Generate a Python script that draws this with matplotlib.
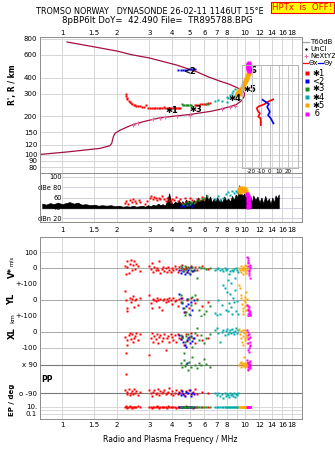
import matplotlib
matplotlib.use("Agg")
import matplotlib.pyplot as plt
from matplotlib.lines import Line2D
from matplotlib.ticker import FixedLocator, NullLocator

plt.rcParams['font.family'] = ['DejaVu Sans']

# ---------------- data ----------------
freq_ticks = [1, 1.5, 2, 3, 4, 5, 6, 7, 8, 9, 10, 12, 14, 16, 18]
freq_labels_top = ['1', '1.5', '2', '3', '4', '5', '6', '7', '8', '', '10', '12', '14', '16', '18']
freq_labels_mid = ['1', '1.5', '2', '3', '4', '5', '6', '7', '8', '9', '10', '12', '14', '16', '18']
height_ticks = [80, 90, 100, 120, 150, 200, 300, 400, 600, 800]

# real-height electron density profile (plasma frequency / MHz, height / km)
prof_f = [0.758, 1.06, 1.61, 1.83, 1.87, 1.91, 1.95, 2.07, 2.35, 2.45, 2.78, 3.16, 3.43, 3.89,
          4.23, 5.0, 5.45, 6.5, 7.3, 8.28, 9.0, 9.6, 9.9, 9.95, 9.8, 9.5, 9.0, 8.2, 7.3, 6.3,
          5.45, 4.23, 3.0, 2.4, 2.0, 1.51, 1.065]
prof_h = [100.5, 105, 112, 117.6, 123, 139, 147, 155, 168, 172, 181, 189, 194, 198,
          201, 206, 210, 218, 226, 237, 247, 265, 285, 300, 312, 322, 335, 355, 375, 405,
          444, 501, 569, 603, 644, 693, 758]

# NeXtYZ points
nxyz_f = [2.45, 2.61, 3.16, 3.43, 3.66, 4.23, 5.0, 7.45, 8.28, 8.82]
nxyz_h = [172, 178, 189, 194, 196, 200, 205, 228, 236, 242]

# echo traces: frequency / MHz, virtual range / km
o1_f = [2.24, 2.245, 2.26, 2.28, 2.31, 2.34, 2.38, 2.42, 2.46, 2.50, 2.55, 2.60, 2.66, 2.72,
        2.80, 2.88, 2.96, 3.03, 3.10, 3.17, 3.24, 3.31, 3.38, 3.45, 3.52, 3.59, 3.66, 3.73,
        3.80, 3.88, 3.96, 4.04, 4.12, 4.20, 4.28, 4.36, 4.44,
        5.30, 5.42, 5.55, 5.68, 5.80, 5.95, 6.10, 6.25, 6.40]
o1_h = [298, 288, 279, 270, 263, 257, 252, 248, 245, 243, 241, 239, 238, 237,
        236, 244, 233, 232, 231, 231, 230, 230, 230, 230, 231, 237, 230, 230,
        230, 230, 230, 230, 230, 230, 231, 231, 232,
        244, 245, 246, 247, 248, 249, 250, 252, 253]
x2_f = [4.33, 4.45, 4.57, 4.70, 4.83, 4.96, 5.10, 5.22, 5.33]
x2_h = [458, 459, 460, 461, 462, 463, 464, 466, 467]
t3_f = [4.50, 4.58, 4.66, 4.74, 4.82, 4.90, 4.98, 5.06, 5.14, 6.15, 6.25]
t3_h = [247, 246, 245, 245, 244, 244, 243, 243, 242, 248, 250]
t4_f = [6.84, 7.14, 7.5, 7.93, 7.93, 8.1, 8.28, 8.45, 8.63, 8.82, 9.0, 8.9, 8.7, 9.1]
t4_h = [264, 267, 262, 283, 259, 279, 292, 302, 314, 323, 292, 300, 285, 310]
t5_f = [9.1, 9.17, 9.25, 9.3, 9.35, 9.4, 9.5, 9.55, 9.62, 9.7, 9.78, 9.85, 9.92, 10.0,
        10.05, 10.12, 10.18, 10.25, 10.3, 10.36, 10.42, 10.47, 10.52]
t5_h = [300, 308, 305, 312, 300, 318, 325, 322, 332, 340, 348, 355, 362, 370,
        378, 385, 392, 400, 408, 416, 425, 434, 442]
t6_f = [10.5, 10.48, 10.45, 10.43, 10.42, 10.41, 10.42, 10.44, 10.46, 10.55, 10.55, 10.52]
t6_h = [448, 456, 465, 474, 483, 492, 500, 508, 516, 505, 490, 470]

# tilt angles versus range
tiltx_h = [270, 259, 247, 237, 230, 216, 210, 198, 192, 181, 170]
tiltx_d = [3.6, -1.9, -6.3, -12.8, -14.5, -12.8, -10.9, -12.8, -10.2, -9.9, -9.9]
tilty_h = [268, 259, 249, 236, 216, 203, 192, 175]
tilty_d = [-8, -5, -1, -3, 0, -2, 1, 4]

# received amplitude / dB
amp_f = [0.78, 0.82, 0.86, 0.9, 0.95, 1.0, 1.05, 1.1, 1.16, 1.22, 1.28, 1.35, 1.42, 1.5,
         1.58, 1.66, 1.75, 1.85, 1.95, 2.05, 2.15, 2.25, 2.35, 2.45, 2.55, 2.65, 2.75, 2.85,
         2.95, 3.05, 3.15, 3.25, 3.35, 3.45, 3.55, 3.65, 3.75, 3.85, 3.95, 4.05, 4.15, 4.25,
         4.35, 4.45, 4.55, 4.65, 4.75, 4.85, 4.95, 5.1, 5.25, 5.4, 5.55, 5.7, 5.85, 6.0,
         6.15, 6.3, 6.45, 6.6, 6.75, 6.9, 7.05, 7.2, 7.35, 7.5, 7.7, 7.9, 8.1, 8.3, 8.5,
         8.7, 8.9, 9.1, 9.3, 9.5, 9.7, 9.9, 10.1, 10.3, 10.5, 10.7, 10.9, 11.1, 11.4, 11.7,
         12.0, 12.3, 12.6, 12.9, 13.2, 13.5, 13.8, 14.1, 14.4, 14.7, 15.0, 15.3]
amp_db = [48, 46, 49, 47, 50, 47, 49, 51, 48, 50, 46, 47, 45, 46,
          44, 45, 44, 45, 43, 44, 42, 43, 42, 44, 42, 43, 44, 42,
          45, 43, 46, 44, 48, 45, 47, 44, 52, 68, 50, 47, 52, 49,
          55, 48, 53, 47, 56, 50, 54, 48, 55, 50, 60, 53, 58, 52,
          66, 55, 62, 50, 58, 52, 60, 53, 57, 50, 62, 54, 58, 52, 63,
          55, 66, 60, 84, 70, 63, 68, 60, 66, 58, 62, 50, 64, 55, 62,
          50, 60, 48, 63, 52, 58, 47, 60, 50, 64, 58, 66]
noise_floor = 39

amp1_f = [2.22, 2.25, 2.3, 2.35, 2.4, 2.45, 2.5, 2.55, 2.62, 2.68, 2.85, 2.92, 3.02, 3.08,
          3.14, 3.2, 3.26, 3.32, 3.38, 3.45, 3.52, 3.6, 3.68, 3.76, 3.84, 3.92, 4.0, 4.1,
          4.2, 4.3, 4.42, 4.55, 4.7, 4.85, 5.0, 5.15, 5.3, 5.45, 5.6, 5.8, 6.0]
amp1_db = [50, 54, 48, 56, 52, 58, 53, 49, 55, 51, 47, 53, 60, 62,
           57, 61, 59, 55, 60, 58, 62, 57, 54, 60, 56, 52, 58, 55,
           61, 53, 57, 50, 59, 54, 60, 56, 52, 58, 55, 61, 57]
amp2_f = [4.45, 4.55, 4.65, 4.8, 4.95, 5.05, 5.15]
amp2_db = [44, 46, 43, 47, 45, 48, 44]
amp3_f = [4.6, 4.7, 4.8, 4.9, 5.0, 5.1, 5.25, 5.4, 5.6, 5.8, 6.0, 6.2]
amp3_db = [47, 50, 46, 52, 48, 51, 49, 53, 55, 57, 60, 63]
amp4_f = [6.9, 7.1, 7.3, 7.6, 7.9, 8.1, 8.3, 8.5, 8.7, 8.9, 9.1]
amp4_db = [57, 62, 56, 60, 66, 70, 65, 72, 68, 73, 70]
amp5_f = [9.25, 9.4, 9.55, 9.7, 9.85, 10.0, 10.15, 9.45, 9.8]
amp5_db = [74, 78, 76, 79, 75, 77, 72, 71, 73]
amp6_f = [10.3, 10.35, 10.4, 10.45, 10.5, 10.45, 10.4, 10.55, 10.5]
amp6_db = [66, 62, 58, 54, 50, 46, 42, 60, 44]

# echo parameters per trace: frequency, V*, YL, XL, PP, EP
e1_f = [2.22, 2.24, 2.26, 2.28, 2.31, 2.34, 2.37, 2.40, 2.43, 2.47, 2.51, 2.55, 2.60, 2.66,
        3.00, 3.05, 3.10, 3.15, 3.20, 3.25, 3.30, 3.35, 3.40, 3.45, 3.50, 3.56, 3.62, 3.68,
        3.74, 3.80, 3.86, 3.92, 3.98, 4.05, 4.12, 4.20, 4.28, 4.36, 4.45, 4.55, 4.65, 4.75,
        4.85, 4.95, 5.05, 5.2, 5.35, 5.5, 5.8, 6.3]
e1_v = [15, -38, 42, 5, -30, 28, 50, -10, 20, 45, -5, 25, 10, -20,
        12, -8, 30, -25, 5, -15, 0, -12, 45, -30, -5, 8, -18, -2,
        -25, 5, -10, -28, 0, -15, 10, -5, -22, 8, -12, 20, -8, 5,
        -25, 0, 12, -18, 5, -10, 15, -5]
e1_yl = [56, 0, -50, -69, -119, 10, -12, 5, 25, -44, 0, 8, -30, 15,
         31, -19, -50, 5, 0, -8, 12, -3, -44, 6, -62, 0, 8, -10,
         4, -5, 10, 0, -25, 12, -6, 3, -40, 8, -10, 15, -75, -125,
         0, -50, 10, -140, -20, 5, -35, -15]
e1_xl = [-31, -131, -81, -50, -20, -6, -45, -12, -65, -35, -25, -5, -50, -15,
         -144, -40, -6, -60, -25, -45, -10, -69, -30, -20, -55, -35, -12, -112,
         -40, -25, -60, -15, -30, -48, -20, -65, -10, -35, -45, -25, -80, -15,
         -55, -30, -5, -40, -70, -20, -50, -35]
e1_pp = [-70, 31, -95, -80, -60, -100, -85, -75, -92, -65, -88, -78, -98, -84,
         -72, -90, -105, -80, -68, -95, -86, -62, -100, -78, -90, -84, -70, -96,
         -88, -80, -58, -92, -76, -100, -86, -70, -94, -82, -66, -90, -102, -78,
         -88, -72, -96, -84, -62, -92, -80, -88]
e1_ep = [10, 14, 7, 11, 9, 16, 10, 6, 13, 9, 11, 10, 15, 8,
         10, 13, 7, 11, 10, 9, 14, 10, 7, 12, 13, 8, 10, 11,
         7, 14, 10, 9, 12, 10, 11, 7, 10, 13, 9, 11, 10, 14,
         8, 10, 12, 7, 11, 10, 9, 12]

e2_f = [4.35, 4.45, 4.52, 4.6, 4.68, 4.75, 4.82, 4.9, 4.98, 5.06, 5.15, 5.28]
e2_v = [-10, -30, 0, -20, -40, -5, -25, -15, -35, 5, -20, -10]
e2_yl = [38, 12, -19, -50, -75, -40, 5, -25, -94, -10, -60, 0]
e2_xl = [-20, -45, -31, -60, -80, -94, -50, -35, -70, -25, -55, -40]
e2_pp = [-85, -100, -75, -95, -110, -80, 100, -90, -70, -105, -88, -95]
e2_ep = [10, 12, 9, 11, 10, 13, 8, 10, 12, 9, 11, 10]

e3_f = [4.45, 4.55, 4.62, 4.7, 4.78, 4.86, 4.95, 5.05, 5.15, 5.3, 5.45, 5.6, 5.75, 5.95, 6.15, 6.4]
e3_v = [12, 0, -20, 15, -5, 5, -30, -10, 8, -15, -60, 5, -2, 0, -8, 3]
e3_yl = [31, -12, -50, -95, -75, 5, -90, -30, 20, 31, 0, -60, -98, -85, -70, -40]
e3_xl = [-19, -38, -131, -62, -25, -10, -45, -30, -94, -6, 25, -50, -20, -70, -35, -15]
e3_pp = [100, 75, 120, 85, 95, 60, 110, 80, 140, 90, 70, 105, 88, 130, 95, 78]
e3_ep = [10, 12, 9, 11, 10, 8, 12, 10, 9, 11, 13, 10, 9, 11, 10, 12]

e4_f = [6.85, 7.0, 7.15, 7.3, 7.45, 7.6, 7.75, 7.9, 8.0, 8.1, 8.2, 8.3, 8.4, 8.5, 8.6,
        8.7, 8.8, 8.9, 9.0, 9.15]
e4_v = [-12, -5, 0, -15, -8, -20, 0, -10, -5, -75, -40, -20, -95, -10, -20, -5, -60, 0, -15, -25]
e4_yl = [-81, -95, 0, -90, -31, 94, 73, -62, 52, -70, -20, 35, -45, -90, 10, -15, 60, -70, -5, -85]
e4_xl = [10, 25, -5, -60, 0, 15, -19, 5, 20, -10, 0, 12, -8, 18, 3, -15, 8, 22, -5, 10]
e4_pp = [-90, -100, -85, -110, -95, -120, -88, -105, -92, -98, -115, -86, -102, -94, -108,
         -90, -112, -96, -100, -88]
e4_ep = [10, 12, 9, 11, 10, 13, 8, 10, 12, 9, 11, 10, 12, 9, 10, 11, 8, 12, 10, 9]

e5_f = [9.3, 9.4, 9.5, 9.55, 9.6, 9.7, 9.75, 9.8, 9.9, 9.95, 10.0, 10.05, 10.1, 10.15, 10.2, 10.3]
e5_v = [0, -10, 10, -25, -5, 5, -40, -15, 0, 20, -20, -8, 12, -30, 3, -12]
e5_yl = [94, 73, 31, 10, -25, -69, -90, -50, 0, 20, -40, -10, 50, -60, 5, -30]
e5_xl = [20, -10, -40, 5, -60, -25, 15, -81, -5, -35, 10, -50, -20, 0, -70, -30]
e5_pp = [90, 101, 79, 111, 95, 85, 100, 88, 140, 92, 80, 105, 96, 86, 110, 90]
e5_ep = [10, 12, 9, 11, 10, 13, 8, 10, 12, 9, 11, 10, 12, 9, 10, 11]

e6_f = [10.3, 10.35, 10.4, 10.45, 10.5, 10.55, 10.6, 10.65, 10.7, 10.4, 10.5, 10.6, 10.45, 10.55]
e6_v = [70, 50, 30, 10, -10, -30, 20, 0, -62, 40, -20, 5, 60, -45]
e6_yl = [-31, -60, -90, -97, -80, -45, -75, -95, -85, -55, -65, -92, -40, -70]
e6_xl = [10, -20, -45, -70, -100, -125, -30, -60, -90, 0, -15, -80, -110, -40]
e6_pp = [120, 100, 80, 60, 90, 110, 70, 95, 85, 105, 75, 115, 65, 90]
e6_ep = [10, 12, 9, 11, 10, 13, 8, 10, 12, 9, 11, 10, 12, 9]

C1, C2, C3, C4, C5, C6 = '#ff0000', '#0000ff', '#208a20', '#00aaaa', '#ffa500', '#ff00ff'
PROF = '#a3113f'
PINK = '#e070a8'
GRID = '#d6d6d6'
FRAME = '#8c8c8c'

# ---------------- figure ----------------
W, H = 335, 451
fig = plt.figure(figsize=(W / 100, H / 100), dpi=100)


def rect(x0, y0, x1, y1):
    return [x0 / W, 1 - y1 / H, (x1 - x0) / W, (y1 - y0) / H]


def fpos(x, y):
    return x / W, 1 - y / H


FMIN, FMAX = 0.758, 20.5


def freq_axis(ax, labels=None, top=False, pad=2.0):
    ax.set_xscale('log')
    ax.set_xlim(FMIN, FMAX)
    ax.xaxis.set_major_locator(FixedLocator(freq_ticks))
    ax.xaxis.set_minor_locator(NullLocator())
    if labels is None:
        ax.set_xticklabels([''] * len(freq_ticks))
    else:
        ax.set_xticklabels(labels)
    if top:
        ax.xaxis.tick_top()
    ax.tick_params(axis='x', length=0, labelsize=5, pad=pad)
    for f in freq_ticks:
        ax.axvline(f, color=GRID, lw=0.7, zorder=0)
    for s in ax.spines.values():
        s.set_color(FRAME)
        s.set_linewidth(0.7)


def sq(ax, x, y, c, ms=2.1):
    ax.plot(x, y, 's', color=c, ms=ms, mec='none', zorder=3)


# --- range panel ---
axh = fig.add_axes(rect(40, 37, 302, 173))
freq_axis(axh, freq_labels_top, top=True, pad=1.0)
axh.set_yscale('log')
axh.set_ylim(72.0, 829)
axh.yaxis.set_major_locator(FixedLocator(height_ticks))
axh.yaxis.set_minor_locator(NullLocator())
axh.set_yticklabels([str(t) for t in height_ticks])
axh.tick_params(axis='y', length=0, labelsize=5, pad=2)
for h in height_ticks:
    axh.axhline(h, color=GRID, lw=0.7, zorder=0)

axh.plot(prof_f, prof_h, color=PROF, lw=0.9, zorder=2)
axh.plot(nxyz_f, nxyz_h, '+', color=PINK, ms=3.5, mew=0.8, zorder=3)
sq(axh, o1_f, o1_h, C1)
sq(axh, x2_f, x2_h, C2)
sq(axh, t3_f, t3_h, C3)
sq(axh, t4_f, t4_h, C4)
sq(axh, t5_f, t5_h, C5, ms=2.6)
sq(axh, t6_f, t6_h, C6, ms=2.6)

trace_tags = [('✱1', 3.97, 223), ('<2', 5.0, 444), ('✱3', 5.40, 227),
              ('✱4', 8.83, 275), ('✱5', 10.66, 320), ('6', 11.1, 458)]
for txt, f, h in trace_tags:
    axh.text(f, h, txt, fontsize=6, fontweight='bold', ha='center', va='center', zorder=4)

# --- tilt inset ---
axt = fig.add_axes(rect(241.7, 65, 298, 168))
axt.set_facecolor('none')
axt.set_xlim(-31, 31)
axt.set_yscale('log')
axt.set_ylim(78.6, 501)
axt.set_xticks([-20, -10, 0, 10, 20], ['-20', '-10', '0', '10', '20'])
axt.yaxis.set_major_locator(NullLocator())
axt.yaxis.set_minor_locator(NullLocator())
axt.tick_params(axis='x', length=0, labelsize=4, pad=0.5)
for d in [-20, -10, 0, 10, 20]:
    axt.axvline(d, color='#c4c4c4', lw=0.7, zorder=0)
for s in axt.spines.values():
    s.set_color('#b4b4b4')
    s.set_linewidth(0.7)
axt.set_xlabel('Tilt / deg', fontsize=4, labelpad=0)
axt.plot(tiltx_d, tiltx_h, color=C1, lw=1.2)
axt.plot(tilty_d, tilty_h, color=C2, lw=1.2)

# --- amplitude panel ---
axa = fig.add_axes(rect(40, 173, 302, 222))
freq_axis(axa, freq_labels_mid, pad=3.5)
axa.set_ylim(12.2, 107.8)
axa.set_yticks([100, 80, 60, 40, 20], ['100', 'dBe 80', '60', '40', 'dBn 20'])
axa.tick_params(axis='y', length=0, labelsize=4.8, pad=-15.5)
axa.hlines([100, 80, 60, 40, 20], 1.0, FMAX, colors='#cfcfe0', lw=0.7, zorder=0)
axa.fill_between(amp_f, noise_floor, amp_db, color='black', lw=0.5, zorder=2)
sq(axa, amp1_f, amp1_db, C1)
sq(axa, amp2_f, amp2_db, C2)
sq(axa, amp3_f, amp3_db, C3)
sq(axa, amp4_f, amp4_db, C4)
sq(axa, amp5_f, amp5_db, C5, ms=2.6)
sq(axa, amp6_f, amp6_db, C6, ms=2.6)

# --- echo parameter strips ---
strip_px = [(237, 284), (284, 316), (316, 356), (356, 400), (400, 419)]
strips = []
for y0, y1 in strip_px:
    a = fig.add_axes(rect(40, y0, 302, y1))
    a.set_facecolor('none')
    freq_axis(a)
    for s in a.spines.values():
        s.set_visible(False)
    a.tick_params(axis='y', length=0, labelsize=5, pad=2)
    strips.append(a)
axv, axyl, axxl, axpp, axep = strips

axv.set_ylim(-100, 193.75)
axv.set_yticks([100, 0, -99.9], ['100', '0', '+-100'])
axyl.set_ylim(-100, 100)
axyl.set_yticks([0, -99.9], ['0', '+-100'])
axxl.set_ylim(-150, 100)
axxl.set_yticks([0, -100], ['0', '-100'])
axpp.set_ylim(-132.6, 147.2)
axpp.set_yticks([90, -90], ['x 90', 'o -90'])
axep.set_yscale('log')
axep.set_ylim(0.0037, 1000)
axep.yaxis.set_major_locator(FixedLocator([10, 0.1]))
axep.yaxis.set_minor_locator(NullLocator())
axep.set_yticklabels(['10.', '0.1'])
axep.xaxis.set_major_locator(FixedLocator(freq_ticks))
axep.set_xticklabels(freq_labels_top)
axep.tick_params(axis='x', length=0, labelsize=5, pad=2.5)

axv.axhline(100, color='#d0d0d0', lw=0.7, zorder=1)
axv.axhline(0, color='#a8a8a8', lw=0.7, zorder=1)
axv.axhline(-99.9, color='#909090', lw=0.7, zorder=1)
axyl.axhline(0, color='#a8a8a8', lw=0.7, zorder=1)
axyl.axhline(-99.9, color='#909090', lw=0.7, zorder=1)
axxl.axhline(0, color='#a8a8a8', lw=0.7, zorder=1)
axxl.axhline(-100, color='#c4c4c4', lw=0.7, zorder=1)
axpp.axhline(90, color='#7a7a7a', lw=0.8, zorder=1)
axpp.axhline(-90, color='#7a7a7a', lw=0.8, zorder=1)
for e in [10, 1, 0.1]:
    axep.axhline(e, color='#d8d8d8', lw=0.7, zorder=1)

echo_sets = [(e1_f, e1_v, e1_yl, e1_xl, e1_pp, e1_ep, C1),
             (e2_f, e2_v, e2_yl, e2_xl, e2_pp, e2_ep, C2),
             (e3_f, e3_v, e3_yl, e3_xl, e3_pp, e3_ep, C3),
             (e4_f, e4_v, e4_yl, e4_xl, e4_pp, e4_ep, C4),
             (e5_f, e5_v, e5_yl, e5_xl, e5_pp, e5_ep, C5),
             (e6_f, e6_v, e6_yl, e6_xl, e6_pp, e6_ep, C6)]
for f, v, yl, xl, pp, ep, c in echo_sets:
    sq(axv, f, v, c)
    sq(axyl, f, yl, c)
    sq(axxl, f, xl, c)
    sq(axpp, f, pp, c)
    sq(axep, f, ep, c)

frame = fig.add_axes(rect(40, 237, 302, 419))
frame.set_facecolor('none')
frame.set_xticks([])
frame.set_yticks([])
for s in frame.spines.values():
    s.set_color(FRAME)
    s.set_linewidth(0.7)

# ---------------- labels ----------------
fig.text(*fpos(150, 12), 'TROMSO NORWAY   DYNASONDE 26-02-11 1146UT 15°E',
         ha='center', va='center', fontsize=5.9)
fig.text(*fpos(157, 20.5), '8pBP6It DoY=  42.490 File=  TR895788.BPG',
         ha='center', va='center', fontsize=6.2)
fig.text(*fpos(302.5, 7.5), 'HPTx  is  OFF!', ha='center', va='center', fontsize=6.2,
         color='red', bbox=dict(boxstyle='square,pad=0.15', fc='#ffff00', ec='red', lw=0.8))

fig.text(*fpos(13, 85), "R', R / km", rotation=90, ha='center', va='center',
         fontsize=5.5, fontweight='bold')
fig.text(*fpos(12, 273), 'V*', rotation=90, ha='center', va='center', fontsize=6, fontweight='bold')
fig.text(*fpos(12, 261), 'm/s', rotation=90, ha='center', va='center', fontsize=4)
fig.text(*fpos(12, 299), 'YL', rotation=90, ha='center', va='center', fontsize=6, fontweight='bold')
fig.text(*fpos(13, 318), 'km', rotation=90, ha='center', va='center', fontsize=4.5)
fig.text(*fpos(12, 333), 'XL', rotation=90, ha='center', va='center', fontsize=6, fontweight='bold')
fig.text(*fpos(47, 380), 'PP', ha='center', va='center', fontsize=5.5, fontweight='bold')
fig.text(*fpos(12, 400), 'EP / deg', rotation=90, ha='center', va='center', fontsize=5,
         fontweight='bold')
fig.text(*fpos(170, 439), 'Radio and Plasma Frequency / MHz', ha='center', va='center',
         fontsize=5.5)

# legend column
def leg_line(x0, x1, y, c):
    fig.add_artist(Line2D([x0 / W, x1 / W], [1 - y / H, 1 - y / H], color=c, lw=0.9,
                          transform=fig.transFigure))


def leg_mark(x, y, c, m, ms, mew=0.7):
    fig.add_artist(Line2D([x / W], [1 - y / H], marker=m, color=c, ms=ms, mew=mew,
                          mec=c if m in '+.' else 'none', linestyle='none',
                          transform=fig.transFigure))


leg_line(303, 309, 42, '#a0a0a0')
fig.text(*fpos(310, 42), 'T60dB', va='center', fontsize=5)
leg_mark(306, 49, 'black', '.', 2)
fig.text(*fpos(310, 49), 'UnCl', va='center', fontsize=5)
leg_mark(306, 56, PINK, '+', 3.5)
fig.text(*fpos(310, 56), 'NeXtYZ', va='center', fontsize=5)
leg_line(303, 308, 63, C1)
fig.text(*fpos(308.5, 63), 'Θx', va='center', fontsize=5)
leg_line(318, 323, 63, C2)
fig.text(*fpos(323.5, 63), 'Θy', va='center', fontsize=5)
for txt, y, c in [('✱1', 73, C1), ('<2', 81, C2), ('✱3', 89, C3),
                  ('✱4', 97, C4), ('✱5', 105, C5), (' 6', 114, C6)]:
    leg_mark(307, y, c, 's', 2.6)
    fig.text(*fpos(312, y), txt, va='center', fontsize=6)

fig.savefig('out.png', dpi=100)
